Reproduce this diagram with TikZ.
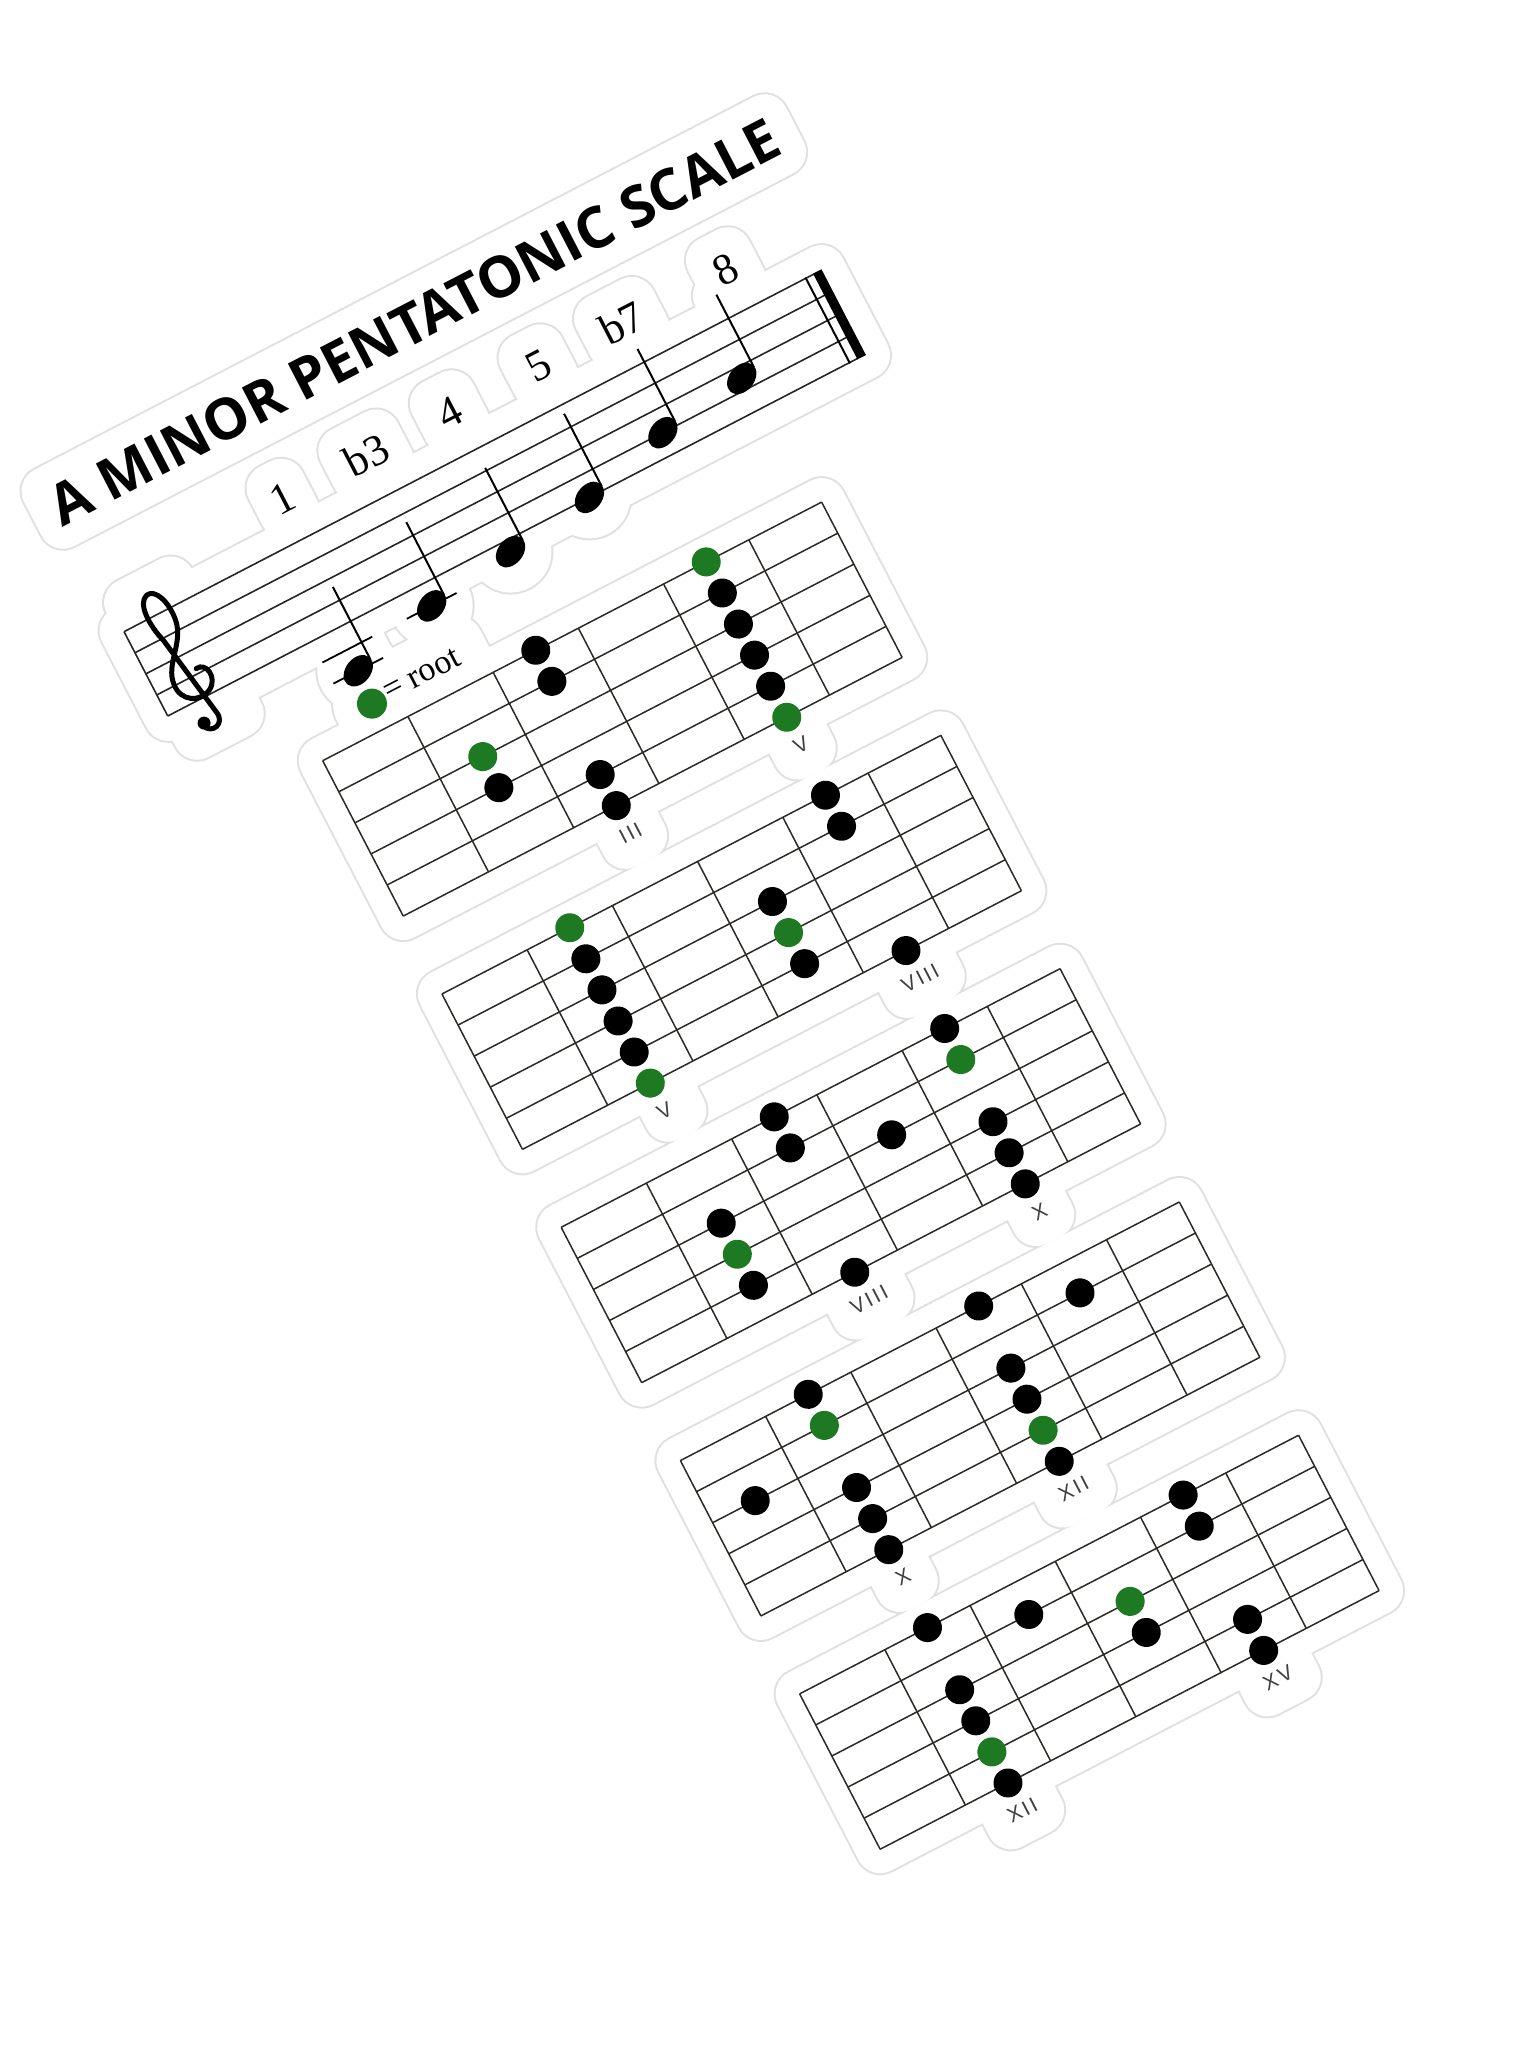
\documentclass[tikz,border=0pt]{standalone}
\usepackage{fontspec}
\setmainfont{Liberation Serif}
\newfontfamily\titlefont{Open Sans}
\newfontfamily\fretfont[LetterSpace=12]{Liberation Sans}
\definecolor{rootgreen}{RGB}{30,122,34}
\definecolor{gridcol}{RGB}{45,42,38}
\definecolor{halocol}{RGB}{224,224,224}
\newcommand\mydotB[2]{\fill[black] ({48+96*(#1-1)},{35*#2}) circle (14.5pt);}
\newcommand\mydotG[2]{\fill[rootgreen] ({48+96*(#1-1)},{35*#2}) circle (14.5pt);}
\newcommand\mygrid{%
  \foreach \j in {0,...,5} \draw[gridline] (0,{35*\j}) -- (562,{35*\j});
  \foreach \f in {0,96,192,288,384,480,562} \draw[gridline] (\f,0) -- (\f,175);}
\newcommand\myhalos[1]{%
  % title
  \path[#1] (-122,-367) rectangle (688,-329);
  % degree labels
  \path[#1] (79,-266) rectangle (91,-236);
  \path[#1] (160,-266) rectangle (198,-236);
  \path[#1] (263,-266) rectangle (283,-236);
  \path[#1] (363,-266) rectangle (383,-236);
  \path[#1] (448,-266) rectangle (486,-236);
  \path[#1] (574,-266) rectangle (594,-236);
  % staff and clef
  \path[#1] (-117,-207) rectangle (669,-110);
  \path[#1] (-100,-230) rectangle (-52,-80);
  % notes
  \foreach \h/\d in {73/-63.5,168/-87.3,263/-99.2,358/-111,453/-134.7,548/-146.6}{
    \path[#1] (\h,\d) circle (17pt);
    \path[#1] ({\h+16},\d) -- ({\h+16},{\d-85});}
  % legend
  \path[#1] (70,-28) circle (15pt);
  \path[#1] (88,-44) rectangle (176,-16);
  % fretboards
  \foreach \t/\s in {0/0,262/-1.5,524/-3,786/-4.5,1048/-6}{
    \path[#1] (\s,\t) rectangle ({\s+562},{\t+175});}
  \path[#1] (230,199) rectangle (250,214);
  \path[#1] (424,199) rectangle (440,214);
  \path[#1] (142.5,461) rectangle (158.5,476);
  \path[#1] (411.5,461) rectangle (449.5,476);
  \path[#1] (218,723) rectangle (256,738);
  \path[#1] (421,723) rectangle (437,738);
  \path[#1] (131.5,985) rectangle (147.5,1000);
  \path[#1] (315,985) rectangle (348,1000);
  \path[#1] (121,1247) rectangle (154,1262);
  \path[#1] (410,1247) rectangle (443,1262);
}
\begin{document}
\begin{tikzpicture}[x=1pt,y=-1pt,
  haloG/.style={draw=halocol,fill=halocol,line width=52pt,line join=round,line cap=round},
  haloW/.style={draw=white,fill=white,line width=48pt,line join=round,line cap=round},
  gridline/.style={draw=gridcol,line width=1.5pt},
  staffline/.style={draw=black!85,line width=1.6pt},
  stemline/.style={draw=black,line width=2pt},
  ledger/.style={draw=black,line width=1.8pt},
  clefline/.style={draw=black,line width=5pt,line cap=round,line join=round},
  deg/.style={font=\fontsize{44}{48}\selectfont, inner sep=0pt},
  fretlab/.style={font=\fretfont\fontsize{21}{24}\selectfont, text=black!75, inner sep=0pt},
]
\fill[white] (0,0) rectangle (1536,2048);
\useasboundingbox (0,0) rectangle (1536,2048);
\begin{scope}[shift={(322.7,760.7)}, rotate=27.4, transform shape]
  \myhalos{haloG}
  \myhalos{haloW}
  % title
  \node[anchor=base west, inner sep=0pt, font=\titlefont\bfseries\fontsize{57}{60}\selectfont] (title) at (-124,-327) {A MINOR PENTATONIC SCALE};
  % staff
  \foreach \k in {0,...,4} \draw[staffline] (-117,{-206+23.75*\k}) -- (660,{-206+23.75*\k});
  \draw[staffline] (-117,-206) -- (-117,-111);
  \draw[line width=2pt] (651,-206.8) -- (651,-110.2);
  \fill (659.5,-206.8) rectangle (669,-110.2);
  % treble clef
  \draw[clefline] (-70,-140) .. controls (-58,-142) and (-55,-122) .. (-68,-115)
     .. controls (-82,-108) and (-99,-118) .. (-97,-136)
     .. controls (-95,-158) and (-70,-168) .. (-66,-192)
     .. controls (-63,-212) and (-70,-230) .. (-80,-228)
     .. controls (-92,-225) and (-92,-200) .. (-86,-180)
     -- (-72,-92)
     .. controls (-69,-78) and (-86,-74) .. (-90,-86);
  \fill (-88,-88) circle (6.5pt);
  % ledger lines
  \draw[ledger] (45,-87.3) -- (101,-87.3);
  \draw[ledger] (45,-63.5) -- (101,-63.5);
  \draw[ledger] (140,-87.3) -- (196,-87.3);
  % notes
  \foreach \h/\d in {73/-63.5,168/-87.3,263/-99.2,358/-111,453/-134.7,548/-146.6}{
    \fill[rotate around={24:(\h,\d)}] (\h,\d) ellipse (17.5pt and 12.5pt);
    \draw[stemline] ({\h+16},{\d-4}) -- ({\h+16},{\d-86});}
  % degree labels
  \node[deg] (d1) at (85,-251) {1};
  \node[deg] (d2) at (179,-251) {b3};
  \node[deg] (d3) at (273,-251) {4};
  \node[deg] (d4) at (373,-251) {5};
  \node[deg] (d5) at (467,-251) {b7};
  \node[deg] (d6) at (584,-251) {8};
  % legend
  \fill[rootgreen] (70,-28) circle (15pt);
  \node[anchor=west, inner sep=0pt, font=\fontsize{34}{36}\selectfont] (legend) at (86,-31) {= root};
  % fretboard 1
  \begin{scope}[shift={(0,0)}]
    \mygrid
    \mydotB{3}{0}\mydotG{5}{0}\mydotB{3}{1}\mydotB{5}{1}\mydotG{2}{2}\mydotB{5}{2}
    \mydotB{2}{3}\mydotB{5}{3}\mydotB{3}{4}\mydotB{5}{4}\mydotB{3}{5}\mydotG{5}{5}
    \node[fretlab] (l1a) at (240,206) {III};
    \node[fretlab] (l1b) at (432,206) {V};
  \end{scope}
  % fretboard 2
  \begin{scope}[shift={(-1.5,262)}]
    \mygrid
    \mydotG{2}{0}\mydotB{5}{0}\mydotB{2}{1}\mydotB{5}{1}\mydotB{2}{2}\mydotB{4}{2}
    \mydotB{2}{3}\mydotG{4}{3}\mydotB{2}{4}\mydotB{4}{4}\mydotG{2}{5}\mydotB{5}{5}
    \node[fretlab] (l2a) at (144,206) {V};
    \node[fretlab] (l2b) at (432,206) {VIII};
  \end{scope}
  % fretboard 3
  \begin{scope}[shift={(-3,524)}]
    \mygrid
    \mydotB{3}{0}\mydotB{5}{0}\mydotB{3}{1}\mydotG{5}{1}\mydotB{2}{2}\mydotB{4}{2}
    \mydotG{2}{3}\mydotB{5}{3}\mydotB{2}{4}\mydotB{5}{4}\mydotB{3}{5}\mydotB{5}{5}
    \node[fretlab] (l3a) at (240,206) {VIII};
    \node[fretlab] (l3b) at (432,206) {X};
  \end{scope}
  % fretboard 4
  \begin{scope}[shift={(-4.5,786)}]
    \mygrid
    \mydotB{2}{0}\mydotB{4}{0}\mydotG{2}{1}\mydotB{5}{1}\mydotB{1}{2}\mydotB{4}{2}
    \mydotB{2}{3}\mydotB{4}{3}\mydotB{2}{4}\mydotG{4}{4}\mydotB{2}{5}\mydotB{4}{5}
    \node[fretlab] (l4a) at (144,206) {X};
    \node[fretlab] (l4b) at (336,206) {XII};
  \end{scope}
  % fretboard 5
  \begin{scope}[shift={(-6,1048)}]
    \mygrid
    \mydotB{2}{0}\mydotB{5}{0}\mydotB{3}{1}\mydotB{5}{1}\mydotB{2}{2}\mydotG{4}{2}
    \mydotB{2}{3}\mydotB{4}{3}\mydotG{2}{4}\mydotB{5}{4}\mydotB{2}{5}\mydotB{5}{5}
    \node[fretlab] (l5a) at (144,206) {XII};
    \node[fretlab] (l5b) at (432,206) {XV};
  \end{scope}
\end{scope}
\end{tikzpicture}
\end{document}
